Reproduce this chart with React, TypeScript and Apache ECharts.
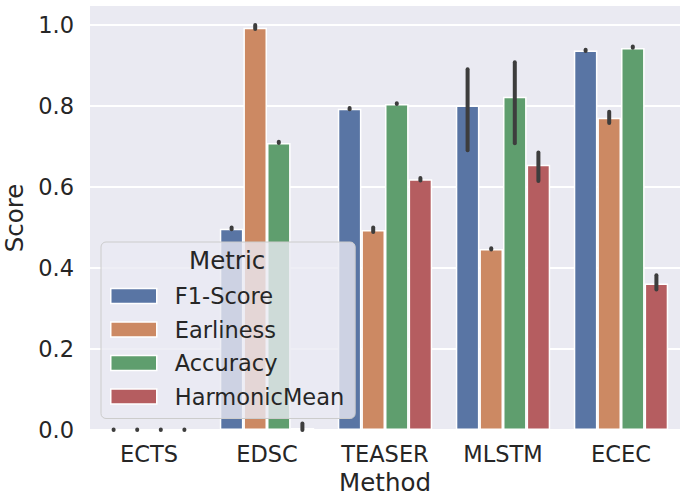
import React, { useEffect, useRef } from "react";
import * as echarts from "echarts";

const methods = ["ECTS", "EDSC", "TEASER", "MLSTM", "ECEC"];
const metrics = ["F1-Score", "Earliness", "Accuracy", "HarmonicMean"];
const colors = ["#5975a4", "#cc8963", "#5f9e6e", "#b55d60"];

const f1Score = [0, 0.497, 0.793, 0.801, 0.937];
const earliness = [0, 0.993, 0.494, 0.447, 0.771];
const accuracy = [0, 0.709, 0.805, 0.823, 0.943];
const harmonicMean = [0, 0.005, 0.619, 0.655, 0.362];

const f1Low = [0, 0.496, 0.792, 0.691, 0.936];
const f1High = [0, 0.5, 0.795, 0.891, 0.939];
const earlinessLow = [0, 0.99, 0.489, 0.446, 0.758];
const earlinessHigh = [0, 1.0, 0.5, 0.449, 0.786];
const accuracyLow = [0, 0.709, 0.805, 0.708, 0.944];
const accuracyHigh = [0, 0.712, 0.807, 0.908, 0.947];
const hmLow = [0, 0.0, 0.616, 0.615, 0.347];
const hmHigh = [0, 0.016, 0.622, 0.685, 0.382];

const yTicks = [0, 0.2, 0.4, 0.6, 0.8, 1.0];

const values = [f1Score, earliness, accuracy, harmonicMean];
const lows = [f1Low, earlinessLow, accuracyLow, hmLow];
const highs = [f1High, earlinessHigh, accuracyHigh, hmHigh];

const FONT = "DejaVu Sans";
const TEXT = "#262626";

export default function App() {
  const ref = useRef<HTMLDivElement>(null);
  useEffect(() => {
    document.body.style.margin = "0";
    const chart = echarts.init(ref.current!, undefined, { renderer: "svg" });
    const errData: number[][] = [];
    metrics.forEach((_, m) => {
      methods.forEach((_, c) => {
        errData.push([c, lows[m][c], highs[m][c], m]);
      });
    });
    const option: any = {
      animation: false,
      backgroundColor: "#ffffff",
      textStyle: { fontFamily: FONT, color: TEXT },
      grid: {
        left: 90,
        right: 0,
        top: 6,
        bottom: 65,
        show: true,
        backgroundColor: "#eaeaf2",
        borderWidth: 0,
        containLabel: false,
        outerBoundsMode: "none",
      },
      xAxis: {
        type: "category",
        data: methods,
        axisLine: { show: false },
        axisTick: { show: false },
        axisLabel: { fontSize: 22.5, color: TEXT, margin: 12, fontFamily: FONT },
        name: "Method",
        nameLocation: "middle",
        nameGap: 41,
        nameTextStyle: { fontSize: 24.5, color: TEXT, fontFamily: FONT, lineHeight: 23 },
        splitLine: { show: false },
      },
      yAxis: {
        type: "value",
        min: 0,
        max: 1.047,
        interval: 0.2,
        axisLine: { show: false },
        axisTick: { show: false },
        axisLabel: {
          fontSize: 22.5,
          color: TEXT,
          margin: 16,
          fontFamily: FONT,
          showMaxLabel: false,
          formatter: (v: number) => (yTicks.some((t) => Math.abs(t - v) < 1e-6) ? v.toFixed(1) : ""),
        },
        splitLine: { show: true, showMaxLine: false, lineStyle: { color: "#ffffff", width: 1.8 } },
        name: "Score",
        nameLocation: "middle",
        nameGap: 56,
        nameTextStyle: { fontSize: 24.5, color: TEXT, fontFamily: FONT },
      },
      legend: {
        orient: "vertical",
        left: 101,
        top: 242,
        data: metrics,
        icon: "rect",
        itemWidth: 46,
        itemHeight: 15,
        itemGap: 7.5,
        padding: [41, 11, 9, 9],
        backgroundColor: "rgba(234,234,242,0.8)",
        borderColor: "#cccccc",
        borderWidth: 1,
        borderRadius: 5,
        itemStyle: { borderColor: "#ffffff", borderWidth: 1.5 },
        textStyle: {
          fontSize: 22.5,
          color: TEXT,
          fontFamily: FONT,
          lineHeight: 26,
          padding: [0, 0, 0, 13],
        },
        selectedMode: false,
      },
      graphic: [
        {
          type: "text",
          left: 229 - 40,
          top: 248,
          z: 100,
          style: {
            text: "Metric",
            x: 0,
            y: 0,
            fontSize: 24.5,
            fontFamily: FONT,
            fill: TEXT,
            width: 80,
            align: "center",
          },
        },
      ],
      series: [
        ...metrics.map((name, m) => ({
          type: "bar",
          name,
          data: values[m],
          barGap: "0%",
          barCategoryGap: "20%",
          itemStyle: { color: colors[m], borderColor: "#ffffff", borderWidth: 1.5 },
          z: 2,
        })),
        {
          type: "custom",
          name: "err",
          data: errData,
          encode: { x: 0, y: [1, 2] },
          z: 3,
          clip: false,
          renderItem: (params: any, api: any) => {
            const cat = api.value(0);
            const lo = api.value(1);
            const hi = api.value(2);
            const m = api.value(3);
            const band = api.size([1, 0])[0];
            const p1 = api.coord([cat, lo]);
            const p2 = api.coord([cat, hi]);
            const x = p1[0] + (m - 1.5) * band * 0.2;
            let y2 = p2[1];
            if (Math.abs(p1[1] - y2) < 0.6) y2 = p1[1] - 0.6;
            return {
              type: "line",
              shape: { x1: x, y1: p1[1], x2: x, y2 },
              style: { stroke: "#3d3d3d", lineWidth: 4, lineCap: "round" },
            };
          },
        },
      ],
    };
    chart.setOption(option);
    return () => chart.dispose();
  }, []);
  return (
    <div
      ref={ref}
      style={{ position: "absolute", left: 0, top: 0, width: 680, height: 495 }}
    />
  );
}
